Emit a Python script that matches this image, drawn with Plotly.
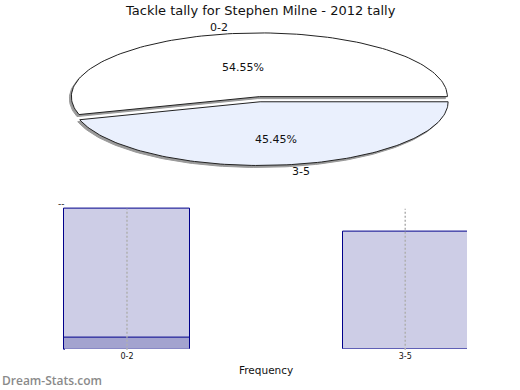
import math
import plotly.graph_objects as go

# ---- data ----
categories = ["0-2", "3-5"]
counts = [6, 5]
base_counts = [0.5, 0]
title_text = "Tackle tally for Stephen Milne - 2012 tally"

W, H = 520, 390
fig = go.Figure()

# ---- elliptical pie (computed from counts, drawn on a pixel-scaled axis) ----
cx, cy, rx, ry = 259.75, 99.2, 188.0, 63.7
explode = 2.6
slice_fills = ["#ffffff", "#eaf0fd"]
total = sum(counts)
start = 0.0
annotations = []
for i, (cat, v) in enumerate(zip(categories, counts)):
    sweep = 360.0 * v / total
    a0, a1 = start, start + sweep
    mid = math.radians((a0 + a1) / 2)
    ox = cx + explode * math.cos(mid)
    oy = cy - explode * math.sin(mid)
    n = 120
    xs, ys = [ox], [oy]
    for k in range(n + 1):
        a = math.radians(a0 + (a1 - a0) * k / n)
        xs.append(ox + rx * math.cos(a))
        ys.append(oy - ry * math.sin(a))
    xs.append(ox); ys.append(oy)
    # shadow
    fig.add_trace(go.Scatter(x=[x - 2 for x in xs], y=[y + 2 for y in ys], mode="lines",
                             fill="toself", fillcolor="#9a9a9a", line=dict(color="#9a9a9a", width=1),
                             xaxis="x2", yaxis="y2", hoverinfo="skip", showlegend=False))
    fig.add_trace(go.Scatter(x=xs, y=ys, mode="lines", fill="toself", fillcolor=slice_fills[i],
                             line=dict(color="#222222", width=1), xaxis="x2", yaxis="y2",
                             name=cat, showlegend=False))
    pct = 100.0 * v / total
    annotations.append(dict(x=(ox + 0.6 * rx * math.cos(mid)) / W, y=1 - (oy - 0.6 * ry * math.sin(mid)) / H,
                            xref="paper", yref="paper", text=f"{pct:.2f}%", showarrow=False,
                            font=dict(family="DejaVu Sans", size=11, color="#111")))
    lx = ox + 1.1 * rx * math.cos(mid)
    ly = oy - 1.1 * ry * math.sin(mid)
    annotations.append(dict(x=lx / W, y=1 - ly / H, xref="paper", yref="paper", text=cat, showarrow=False,
                            xanchor="right" if math.cos(mid) < 0 else "left", yanchor="middle",
                            font=dict(family="DejaVu Sans", size=11, color="#111")))
    start = a1

# ---- bar chart ----
fig.add_trace(go.Bar(x=categories, y=counts, width=0.45, marker=dict(color="#cdcde6", line=dict(color="#00008b", width=1)),
                     xaxis="x", yaxis="y", showlegend=False))
fig.add_trace(go.Bar(x=categories, y=base_counts, width=0.45, marker=dict(color="#a3a3cf", line=dict(color="#00008b", width=1)),
                     xaxis="x", yaxis="y", showlegend=False))

shapes = [dict(type="line", xref="x domain", yref="y domain", x0=0.005, x1=1, y0=0, y1=0,
               line=dict(color="white", width=2), layer="above")]
for cat in categories:
    shapes.append(dict(type="line", xref="x", yref="y domain", x0=cat, x1=cat, y0=0, y1=0.985,
                       line=dict(color="#b0b0b0", width=1.5, dash="2px,2px"), layer="above"))

annotations += [
    dict(x=0.5, y=1 - 10 / H, xref="paper", yref="paper", text=title_text, showarrow=False,
         font=dict(family="DejaVu Sans", size=13, color="#111"), yanchor="middle"),
    dict(x=266 / W, y=1 - 370 / H, xref="paper", yref="paper", text="Frequency", showarrow=False,
         font=dict(family="DejaVu Sans", size=10.5, color="#111"), yanchor="middle"),
    dict(x=0, y=1 - 380 / H, xref="paper", yref="paper", text="Dream-Stats.com", showarrow=False,
         xanchor="left", yanchor="middle", font=dict(family="Open Sans", size=12, color="#8a8a8a", weight=600)),
    dict(x=56 / W, y=1 - 204 / H, xref="paper", yref="paper", text="--", showarrow=False,
         yanchor="middle", font=dict(family="DejaVu Sans", size=9, color="#111")),
]

fig.update_layout(
    width=W, height=H, margin=dict(l=0, r=0, t=0, b=0),
    paper_bgcolor="white", plot_bgcolor="rgba(0,0,0,0)",
    barmode="overlay", bargap=0,
    xaxis=dict(domain=[63 / W, 467 / W], range=[-0.23, 1.222], type="category", showgrid=False,
               showline=False, ticks="", zeroline=False, anchor="y",
               tickfont=dict(family="DejaVu Sans", size=8, color="#111")),
    yaxis=dict(domain=[40.2 / H, 183.4 / H], range=[0.0, 6.08], showgrid=False, showticklabels=False,
               zeroline=False, showline=False, anchor="x"),
    xaxis2=dict(domain=[0, 1], range=[0, W], visible=False, anchor="y2"),
    yaxis2=dict(domain=[0, 1], range=[H, 0], visible=False, anchor="x2"),
    shapes=shapes, annotations=annotations,
)

fig.write_html("out.html", config={"displayModeBar": False},
               post_script="document.body.style.margin='0';document.body.style.overflow='hidden';")
